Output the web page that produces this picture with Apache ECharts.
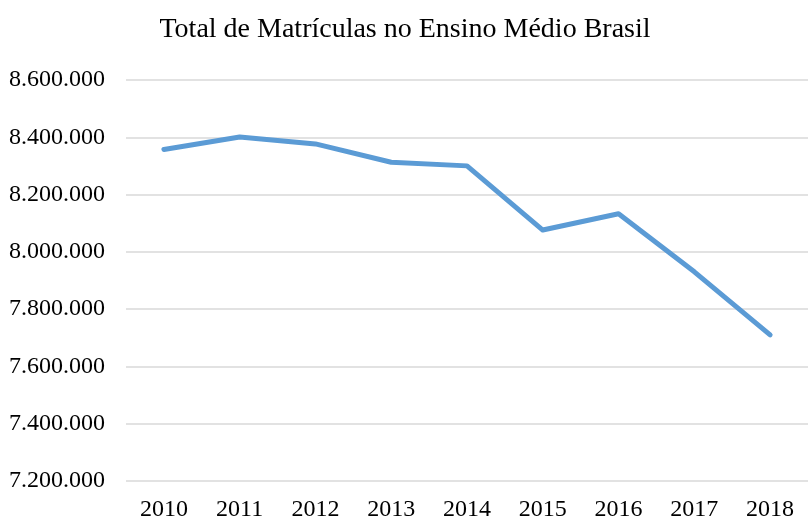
<!DOCTYPE html>
<html><head><meta charset="utf-8">
<script src="https://cdn.jsdelivr.net/npm/echarts@6/dist/echarts.min.js"></script>
<style>html,body{margin:0;padding:0;background:#fff}#c{width:808px;height:522px}</style>
</head><body><div id="c"></div>
<script>
const categories = ['2010','2011','2012','2013','2014','2015','2016','2017','2018'];
const matriculas = [8357675, 8400689, 8376852, 8312815, 8300189, 8076150, 8133040, 7930384, 7709929];
const yTicks = { min: 7200000, max: 8600000, interval: 200000 };

function fmt(v){ return String(v).replace(/\B(?=(\d{3})+(?!\d))/g, '.'); }

const chart = echarts.init(document.getElementById('c'), null, {renderer:'canvas'});
chart.setOption({
  animation: false,
  backgroundColor: '#fff',
  title: {
    text: 'Total de Matrículas no Ensino Médio Brasil',
    left: 400, top: 11, textAlign: 'center',
    textStyle: { fontFamily: 'Liberation Serif', fontSize: 28, fontWeight: 'normal', color: '#000' }
  },
  grid: { left: 126, top: 80, width: 695, bottom: 38, containLabel: false },
  xAxis: {
    type: 'category', data: categories, boundaryGap: true,
    axisLine: { show: false }, axisTick: { show: false },
    axisLabel: { margin: 17, fontFamily: 'Liberation Serif', fontSize: 24, color: '#000' }
  },
  yAxis: {
    type: 'value', min: yTicks.min, max: yTicks.max, interval: yTicks.interval,
    axisLine: { show: false }, axisTick: { show: false },
    splitLine: { lineStyle: { color: '#d9d9d9', width: 1.5 } },
    axisLabel: { margin: 21, fontFamily: 'Liberation Serif', fontSize: 24, color: '#000', formatter: fmt }
  },
  series: [{
    type: 'line', data: matriculas, showSymbol: false, symbol: 'none',
    lineStyle: { color: '#5B9BD5', width: 5, cap: 'round', join: 'round' }
  }]
});
</script></body></html>
